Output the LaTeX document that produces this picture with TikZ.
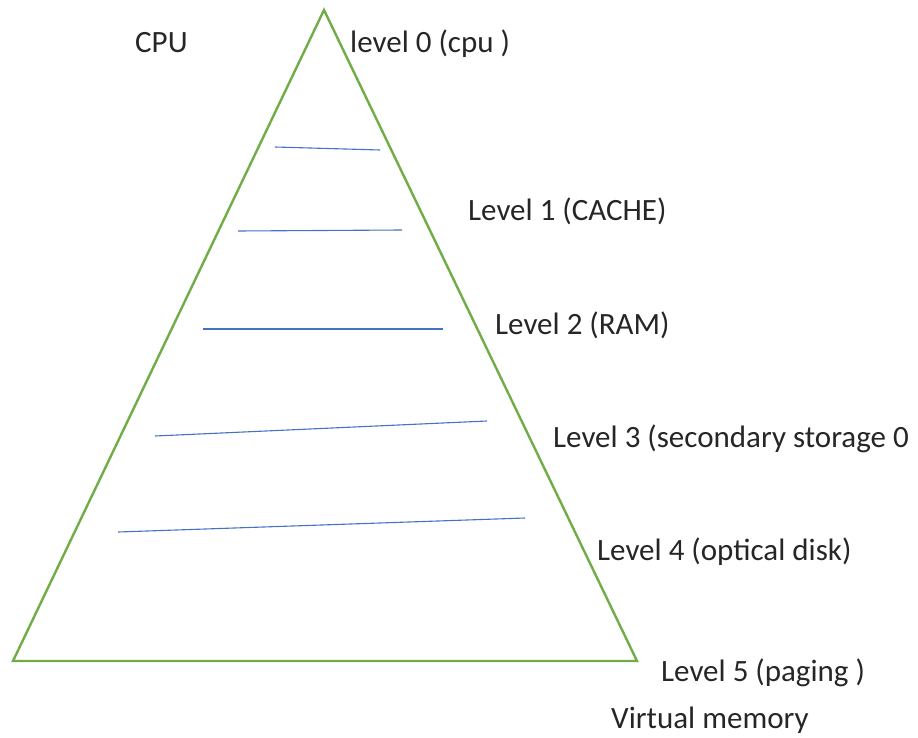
\documentclass[tikz,border=0pt]{standalone}
\usepackage{fontspec}
\setmainfont{Carlito}
\usepackage{xcolor}
\definecolor{pyrgreen}{HTML}{70AD47}
\definecolor{lvlblue}{HTML}{4472C4}

\begin{document}
\begin{tikzpicture}[
    lbl/.style={anchor=base west, inner sep=0pt, font=\fontsize{31}{36}\selectfont, text=black!85},
    side/.style={draw=pyrgreen, line width=2.4pt, line join=miter},
    split/.style={draw=lvlblue, line width=1.1pt}
]
    \useasboundingbox (0pt, 0pt) rectangle (918pt, -738pt);

    % Corners
    \coordinate (top) at (324pt, -10pt);
    \coordinate (bl) at (13pt, -661pt);
    \coordinate (br) at (637pt, -661pt);

    \draw[side] (top) -- (bl) -- (br) -- cycle;

    % Split lines
    \coordinate (a) at (275pt, -147pt);
    \coordinate (a1) at (380pt, -150pt);
    \coordinate (b) at (238pt, -231pt);
    \coordinate (b1) at (402pt, -230pt);
    \coordinate (c) at (203pt, -329pt);
    \coordinate (c1) at (443pt, -329pt);
    \coordinate (d) at (155pt, -436pt);
    \coordinate (d1) at (487pt, -421pt);
    \coordinate (e) at (118pt, -532pt);
    \coordinate (e1) at (525pt, -518pt);

    \draw[split] (a) -- (a1);
    \draw[split] (b) -- (b1);
    \draw[split] (c) -- (c1);
    \draw[split] (d) -- (d1);
    \draw[split] (e) -- (e1);

    % Labels
    \node[lbl] (cpu) at (135pt, -53pt) {CPU};
    \node[lbl] (l0) at (350pt, -53pt) {level 0 (cpu )};
    \node[lbl] (l1) at (468pt, -220pt) {Level 1 (CACHE)};
    \node[lbl] (l2) at (495pt, -334pt) {Level 2 (RAM)};
    \node[lbl] (l3) at (553pt, -447pt) {Level 3 (secondary storage 0};
    \node[lbl] (l4) at (597pt, -560pt) {Level 4 (optical disk)};
    \node[lbl] (l5) at (661pt, -681pt) {Level 5 (paging )};
    \node[lbl] (vm) at (611pt, -728pt) {Virtual memory};

\end{tikzpicture}
\end{document}
